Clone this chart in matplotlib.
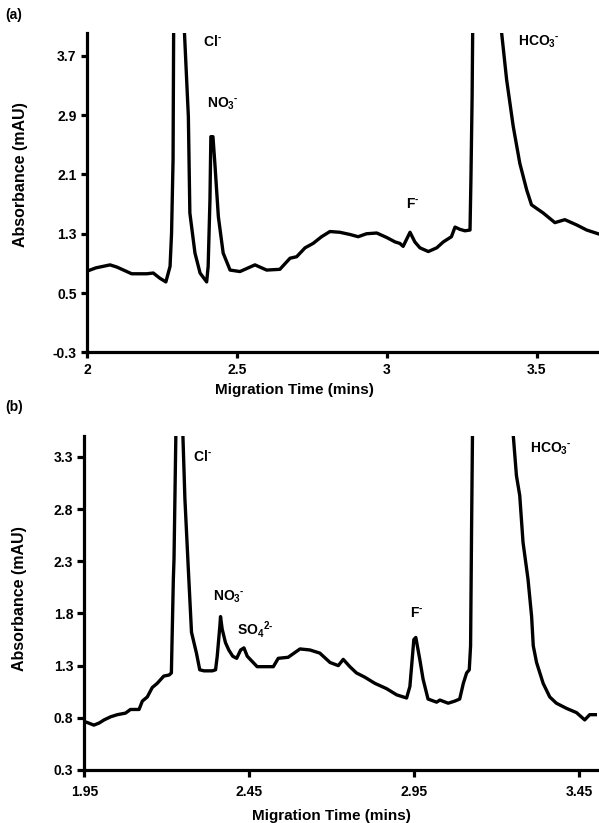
"""Electropherograms (a) and (b): absorbance vs migration time."""

import matplotlib.pyplot as plt

plt.rcParams['font.family'] = ['Liberation Sans', 'DejaVu Sans']
plt.rcParams['font.weight'] = 'bold'
plt.rcParams['mathtext.fontset'] = 'custom'
plt.rcParams['mathtext.rm'] = 'Liberation Sans:bold'
plt.rcParams['mathtext.bf'] = 'Liberation Sans:bold'
plt.rcParams['mathtext.default'] = 'rm'

# panel (a) trace
time_a = [2.01, 2.03, 2.077, 2.10, 2.149, 2.199, 2.221, 2.243, 2.263, 2.277,
          2.282, 2.287, 2.289, 2.30, 2.324, 2.338, 2.343, 2.36, 2.377, 2.399,
          2.404, 2.41, 2.413, 2.42, 2.427, 2.438, 2.454, 2.477, 2.51, 2.56,
          2.599, 2.643, 2.677, 2.699, 2.727, 2.754, 2.782, 2.81, 2.843, 2.877,
          2.904, 2.932, 2.966, 2.999, 3.027, 3.043, 3.054, 3.077, 3.093, 3.11,
          3.138, 3.166, 3.188, 3.215, 3.227, 3.243, 3.26, 3.277, 3.28, 3.284,
          3.286, 3.33, 3.38, 3.399, 3.421, 3.443, 3.466, 3.482, 3.521, 3.56,
          3.593, 3.632, 3.666, 3.704]
abs_a = [0.81, 0.84, 0.88, 0.85, 0.76, 0.76, 0.77, 0.70, 0.65, 0.86,
         1.31, 2.30, 4.10, 6.0, 4.10, 2.88, 1.58, 1.04, 0.77, 0.65,
         0.86, 1.76, 2.61, 2.61, 2.21, 1.53, 1.04, 0.81, 0.79, 0.88,
         0.81, 0.82, 0.97, 0.99, 1.11, 1.17, 1.26, 1.33, 1.32, 1.29,
         1.26, 1.30, 1.31, 1.25, 1.19, 1.17, 1.13, 1.32, 1.19, 1.11,
         1.06, 1.11, 1.19, 1.26, 1.39, 1.36, 1.34, 1.35, 2.03, 3.15,
         4.10, 6.0, 4.10, 3.38, 2.75, 2.25, 1.89, 1.69, 1.58, 1.45,
         1.49, 1.42, 1.35, 1.30]

# panel (b) trace
time_b = [1.959, 1.979, 1.995, 2.01, 2.03, 2.05, 2.075, 2.09, 2.116, 2.126,
          2.141, 2.156, 2.171, 2.191, 2.207, 2.214, 2.217, 2.22, 2.222, 2.228,
          2.238, 2.248, 2.255, 2.265, 2.275, 2.29, 2.30, 2.313, 2.338, 2.348,
          2.353, 2.361, 2.363, 2.368, 2.378, 2.388, 2.40, 2.412, 2.424, 2.434,
          2.444, 2.459, 2.474, 2.495, 2.523, 2.538, 2.568, 2.604, 2.634, 2.664,
          2.695, 2.72, 2.735, 2.755, 2.775, 2.80, 2.831, 2.866, 2.897, 2.927,
          2.937, 2.949, 2.955, 2.967, 2.977, 2.992, 3.018, 3.028, 3.053, 3.073,
          3.088, 3.099, 3.109, 3.117, 3.121, 3.124, 3.127, 3.19, 3.248, 3.26,
          3.27, 3.28, 3.295, 3.306, 3.311, 3.321, 3.341, 3.361, 3.381, 3.412,
          3.442, 3.467, 3.482, 3.502]
abs_b = [0.755, 0.73, 0.75, 0.78, 0.81, 0.83, 0.845, 0.88, 0.88, 0.96,
         1.00, 1.09, 1.13, 1.20, 1.21, 1.23, 1.68, 2.13, 2.32, 3.60,
         5.0, 3.60, 2.90, 2.25, 1.62, 1.42, 1.26, 1.25, 1.25, 1.26,
         1.39, 1.68, 1.77, 1.65, 1.52, 1.45, 1.39, 1.37, 1.45, 1.47,
         1.39, 1.34, 1.29, 1.29, 1.29, 1.37, 1.38, 1.46, 1.45, 1.42,
         1.33, 1.30, 1.36, 1.29, 1.23, 1.19, 1.13, 1.08, 1.02, 0.99,
         1.10, 1.55, 1.57, 1.36, 1.17, 0.98, 0.95, 0.97, 0.94, 0.96,
         0.98, 1.13, 1.23, 1.26, 1.49, 2.61, 3.60, 5.0, 3.60, 3.12,
         2.93, 2.48, 2.13, 1.77, 1.49, 1.33, 1.13, 1.00, 0.94, 0.89,
         0.85, 0.78, 0.83, 0.83]

xticks_a = [2, 2.5, 3, 3.5]
yticks_a = [-0.3, 0.5, 1.3, 2.1, 2.9, 3.7]
xticks_b = [1.95, 2.45, 2.95, 3.45]
yticks_b = [0.3, 0.8, 1.3, 1.8, 2.3, 2.8, 3.3]

labels_a = [(r"Cl$^{\text{-}}$", 2.387, 3.99), (r"NO$_3$$^{\text{-}}$", 2.40, 3.17),
            (r"F$^{\text{-}}$", 3.063, 1.79), (r"HCO$_3$$^{\text{-}}$", 3.438, 4.0)]
labels_b = [(r"Cl$^{\text{-}}$", 2.280, 3.38), (r"NO$_3$$^{\text{-}}$", 2.341, 2.04),
            (r"SO$_4$$^{\text{2-}}$", 2.412, 1.75), (r"F$^{\text{-}}$", 2.937, 1.87),
            (r"HCO$_3$$^{\text{-}}$", 3.30, 3.46)]

fig = plt.figure(figsize=(5.99, 8.23), dpi=100)
ax_a = fig.add_axes([0.1452, 0.5719, 0.8548, 0.3881])
ax_b = fig.add_axes([0.1407, 0.0644, 0.8553, 0.4058])


def style(ax, xlim, ylim, xticks, yticks, xfmt, yfmt, tick_len, xpad):
    ax.set_xlim(*xlim)
    ax.set_ylim(*ylim)
    ax.set_xticks(xticks)
    ax.set_xticklabels([xfmt.format(v) for v in xticks])
    ax.set_yticks(yticks)
    ax.set_yticklabels([yfmt.format(v) for v in yticks])
    for side in ['top', 'right']:
        ax.spines[side].set_visible(False)
    for side in ['left', 'bottom']:
        ax.spines[side].set_linewidth(2.3)
    ax.tick_params(axis='both', width=2.3, length=tick_len, labelsize=10, direction='out')
    ax.tick_params(axis='x', pad=xpad)
    ax.tick_params(axis='y', pad=3)
    for lab in ax.get_xticklabels() + ax.get_yticklabels():
        lab.set_fontweight('bold')


ax_a.plot(time_a, abs_a, color='black', lw=2.4, solid_joinstyle='round')
style(ax_a, (2, 3.707), (-0.3, 4.01), xticks_a, yticks_a, "{:g}", "{:.1f}", 4.5, 3)
ax_a.set_xlabel("Migration Time (mins)", fontsize=11, fontweight='bold')
ax_a.set_ylabel("Absorbance (mAU)", fontsize=11.5, fontweight='bold')
ax_a.xaxis.set_label_coords(0.406, -0.096)
ax_a.yaxis.set_label_coords(-0.115, 0.555)
for txt, x, y in labels_a:
    ax_a.text(x, y, txt, fontsize=10, ha='left', va='top')

ax_b.plot(time_b, abs_b, color='black', lw=2.4, solid_joinstyle='round')
style(ax_b, (1.95, 3.503), (0.3, 3.5), xticks_b, yticks_b, "{:.2f}", "{:.1f}", 5, 6)
ax_b.set_xlabel("Migration Time (mins)", fontsize=11, fontweight='bold')
ax_b.set_ylabel("Absorbance (mAU)", fontsize=11.5, fontweight='bold')
ax_b.xaxis.set_label_coords(0.483, -0.118)
ax_b.yaxis.set_label_coords(-0.112, 0.513)
for txt, x, y in labels_b:
    ax_b.text(x, y, txt, fontsize=10, ha='left', va='top')

fig.text(5 / 599, 1 - 8 / 823, "(a)", fontsize=10, fontweight='bold', va='top')
fig.text(5 / 599, 1 - 400 / 823, "(b)", fontsize=10, fontweight='bold', va='top')

fig.savefig("out.png", dpi=100)
